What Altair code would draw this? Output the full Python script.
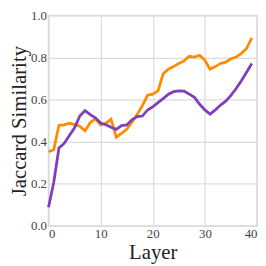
import altair as alt
import pandas as pd

layers = list(range(40))
orange = [0.352, 0.362, 0.478, 0.480, 0.488, 0.481, 0.474, 0.452, 0.490, 0.510,
          0.480, 0.488, 0.507, 0.422, 0.440, 0.459, 0.493, 0.529, 0.571, 0.621,
          0.626, 0.642, 0.723, 0.745, 0.757, 0.772, 0.784, 0.806, 0.802, 0.811,
          0.787, 0.745, 0.757, 0.772, 0.778, 0.794, 0.802, 0.820, 0.843, 0.894]
purple = [0.089, 0.206, 0.370, 0.392, 0.430, 0.466, 0.522, 0.548, 0.529, 0.514,
          0.489, 0.481, 0.469, 0.459, 0.477, 0.480, 0.504, 0.519, 0.522, 0.551,
          0.566, 0.586, 0.605, 0.626, 0.638, 0.642, 0.641, 0.626, 0.611, 0.578,
          0.551, 0.531, 0.551, 0.574, 0.593, 0.620, 0.653, 0.690, 0.730, 0.772]
series_names = ["A", "B"]
series_colors = ["#ff8c00", "#7e3fbf"]

df = pd.DataFrame({
    "layer": layers * 2,
    "value": orange + purple,
    "series": [series_names[0]] * 40 + [series_names[1]] * 40,
})

font = "Liberation Serif"
chart = alt.Chart(df).mark_line(strokeWidth=2.8).encode(
    x=alt.X("layer:Q", title="Layer",
            scale=alt.Scale(domain=[0, 40], nice=False),
            axis=alt.Axis(values=[0, 10, 20, 30, 40], format="d",
                          labelFont=font, titleFont=font)),
    y=alt.Y("value:Q", title="Jaccard Similarity",
            scale=alt.Scale(domain=[0, 1], nice=False),
            axis=alt.Axis(values=[0, 0.2, 0.4, 0.6, 0.8, 1.0], format=".1f",
                          labelFont=font, titleFont=font)),
    color=alt.Color("series:N", scale=alt.Scale(domain=series_names, range=series_colors), legend=None),
).properties(
    width=211, height=213, padding=0,
).configure_view(
    stroke="#d9d9d9", strokeWidth=1.5
).configure_axis(
    labelFont=font, titleFont=font, labelFontSize=13, titleFontSize=21,
    labelColor="#444444", titleColor="#222222", titleFontWeight="normal",
    gridColor="#dcdcdc", gridWidth=1.2, domain=False, ticks=False,
    labelPadding=2,
).configure_axisX(titlePadding=1).configure_axisY(titlePadding=1)

chart.save("out.html", embed_options={"renderer": "svg", "actions": False})
